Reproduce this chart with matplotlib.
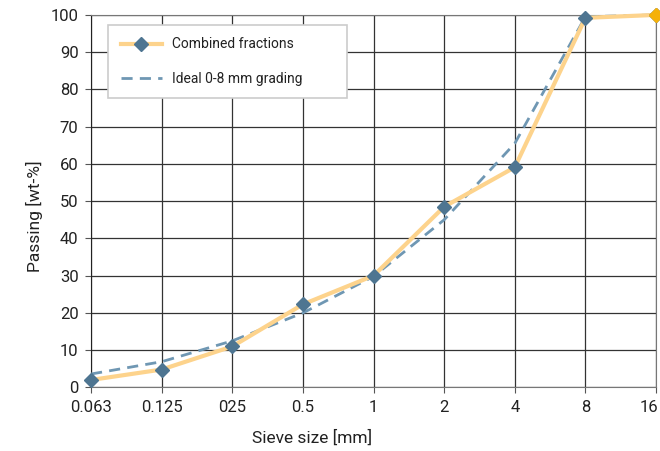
import matplotlib
matplotlib.use("Agg")
import matplotlib.pyplot as plt
from matplotlib.transforms import offset_copy

sieve = ["0.063", "0.125", "025", "0.5", "1", "2", "4", "8", "16"]
combined = [2.0, 4.8, 11.0, 22.3, 30.0, 48.5, 59.1, 99.2, 100.0]
ideal = [3.6, 6.9, 12.5, 20.0, 29.8, 45.0, 65.5, 99.5, 100.0]

plt.rcParams['font.family'] = ['Roboto', 'DejaVu Sans']

fig = plt.figure(figsize=(6.6, 4.51), dpi=100)
ax = fig.add_axes([0.138, 0.141, 0.856, 0.826])

x = list(range(len(sieve)))
ax.plot(x, ideal, color="#6f97b3", lw=2, ls=(0, (4, 2.6)), label="Ideal 0-8 mm grading",
        zorder=3, clip_on=False)
ax.plot(x, combined, color="#fdd38c", lw=3, marker="D", ms=7,
        mfc="#4e7591", mec="#4e7591", label="Combined fractions", zorder=4, clip_on=False)
ax.plot(x[-1], combined[-1], marker="D", ms=7, color="#f5b10a", ls="none", zorder=5, clip_on=False)

ax.set_xlim(0, len(sieve) - 1)
ax.set_ylim(0, 100)
ax.set_xticks(x)
ax.set_xticklabels(sieve)
ax.set_yticks(range(0, 101, 10))
ax.grid(True, color="#333333", lw=0.9)
ax.set_axisbelow(True)
for s in ["top", "right", "bottom"]:
    ax.spines[s].set_color("#777777")
ax.spines["left"].set_color("#222222")
ax.tick_params(labelsize=12, color="#555555", length=4, pad=5, labelcolor="#222222")

# keep the "16" inside the figure
last = ax.get_xticklabels()[-1]
last.set_transform(offset_copy(last.get_transform(), fig=fig, x=-5, units="points"))

# axis titles sit off-centre in the original
ax.set_xlabel("Sieve size [mm]", fontsize=12.5, color="#222222", va="center")
ax.xaxis.set_label_coords(312 / 660, 1 - 438 / 451, transform=fig.transFigure)
ax.set_ylabel("Passing [wt-%]", fontsize=12.5, color="#222222", va="center")
ax.yaxis.set_label_coords(34 / 660, 1 - 216 / 451, transform=fig.transFigure)

h, l = ax.get_legend_handles_labels()
leg = ax.legend([h[1], h[0]], [l[1], l[0]], loc="upper left",
                bbox_to_anchor=(0.03, 0.785, 0.423, 0.188), mode="expand",
                fontsize=10, frameon=True, fancybox=False, edgecolor="#cccccc",
                borderpad=0.9, labelspacing=1.45, handlelength=3.0, handletextpad=0.7,
                borderaxespad=0)
leg.get_frame().set_linewidth(1.2)
leg.get_frame().set_alpha(1)
for t in leg.get_texts():
    t.set_color("#222222")

fig.savefig("out.png", dpi=100)
